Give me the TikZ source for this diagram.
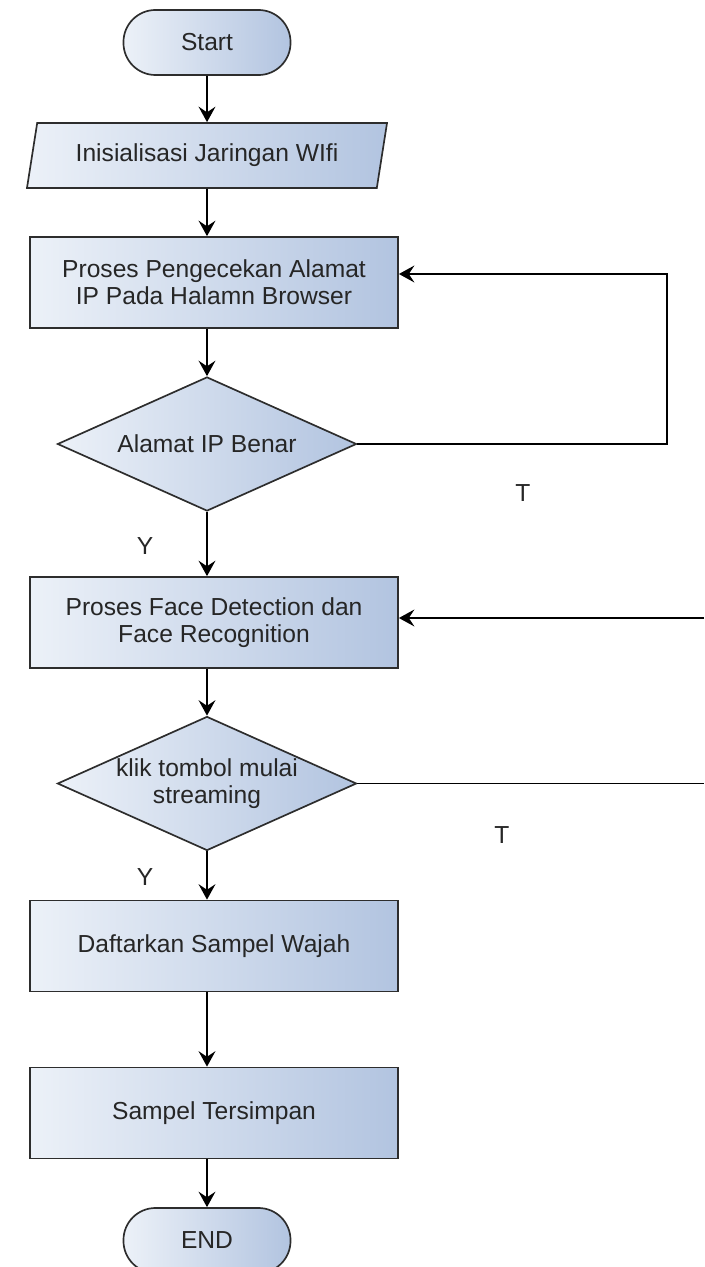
\documentclass[tikz,border=0pt]{standalone}
\usepackage{fontspec}
\setmainfont{Liberation Sans}
\usetikzlibrary{shapes.geometric,arrows.meta}
\definecolor{boxlight}{RGB}{236,241,248}
\definecolor{boxdark}{RGB}{178,196,224}
\definecolor{edgegray}{RGB}{45,45,45}
\definecolor{textgray}{RGB}{38,38,38}
\tikzset{
  base/.style={draw=edgegray,line width=1.2pt,left color=boxlight,right color=boxdark,text=textgray,font=\fontsize{17.5}{19.2}\selectfont,align=center,inner sep=0pt},
  terminal/.style={base,rectangle,rounded corners=0.8cm,minimum width=4.175cm,minimum height=1.625cm},
  io/.style={base,trapezium,trapezium left angle=71,trapezium right angle=109,trapezium stretches=true,minimum width=9cm,minimum height=1.625cm},
  process/.style={base,rectangle,minimum width=9.2cm,minimum height=2.275cm},
  decision/.style={base,diamond,aspect=2.23,minimum width=7.475cm,minimum height=3.35cm},
  lbl/.style={text=textgray,font=\fontsize{17.5}{19.2}\selectfont,inner sep=0pt}
}
\begin{document}
\begin{tikzpicture}[x=0.025cm,y=-0.025cm,>={Stealth[length=11pt,width=12pt,inset=4pt]},line width=1.3pt]
            \useasboundingbox(0,0)rectangle(704,1267);
            \node[terminal](start)at(207,42.5){Start};
            \node[io](init)at(207,155.5){Inisialisasi Jaringan WIfi};
            \node[process](cek)at(214,282.5){Proses Pengecekan Alamat\\IP Pada Halamn Browser};
            \node[decision](dec1)at(207,444){Alamat IP Benar};
            \node[process](face)at(214,622.5){Proses Face Detection dan\\Face Recognition};
            \node[decision](dec2)at(207,783.5){klik tombol mulai\\streaming};
            \node[process](daftar)at(214,946){Daftarkan Sampel Wajah};
            \node[process](simpan)at(214,1113){Sampel Tersimpan};
            \node[terminal](stop)at(207,1240.5){END};
            \node[lbl](y1)at(145,546){Y};
            \node[lbl](t1)at(523,493){T};
            \node[lbl](t2)at(502,835){T};
            \node[lbl](y2)at(145,877){Y};
            \coordinate(loop1)at(667,274);
            \coordinate(out2)at(704,783.5);
            \coordinate(in2)at(704,618);
            \draw[->](start)--(init);
            \draw[->](init)--(init|-cek.north);
            \draw[->](cek.south-|dec1)--(dec1);
            \draw[->](dec1)--(dec1|-face.north);
            \draw[->](face.south-|dec2)--(dec2);
            \draw[->](dec2)--(dec2|-daftar.north);
            \draw[->](daftar.south-|stop)--(simpan.north-|stop);
            \draw[->](simpan.south-|stop)--(stop);
            \draw[->](dec1.east)-|(loop1)--(loop1-|cek.east);
            \draw(dec2.east)--(out2);
            \draw[->](in2)--(in2-|face.east);
        \end{tikzpicture}
\end{document}
